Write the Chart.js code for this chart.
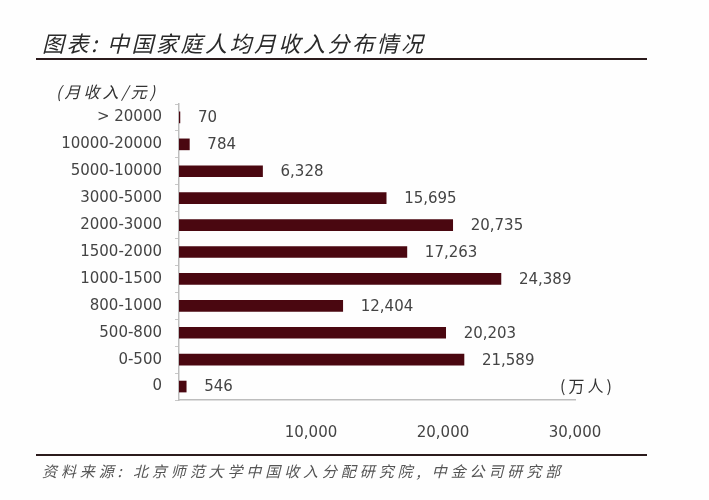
<!DOCTYPE html>
<html>
<head>
<meta charset="utf-8">
<script src="https://cdn.jsdelivr.net/npm/chart.js@4/dist/chart.umd.min.js"></script>
<style>
  html, body { margin:0; padding:0; background:#fefefe; }
  #wrap { position:relative; width:709px; height:500px; overflow:hidden; }
  canvas { position:absolute; left:0; top:0; }
  .t { position:absolute; white-space:nowrap; font-family:"Noto Sans CJK SC", sans-serif; }
  #title { left:42px; top:26px; font-size:22px; font-style:italic; color:#2a2a2a; letter-spacing:2.5px; }
  #unitY { left:56px; top:79px; font-size:16px; font-style:italic; color:#333; letter-spacing:3px; }
  #unitX { left:560px; top:373px; font-size:16px; color:#333; letter-spacing:3px; }
  #source { left:42px; top:460px; font-size:15px; font-style:italic; color:#555; letter-spacing:3.9px; }
  .rule { position:absolute; left:36px; width:611px; height:2px; background:#2b1b1c; }
</style>
</head>
<body>
<div id="wrap">
  <canvas id="c" width="709" height="500"></canvas>
  <div class="t" id="title">图表: 中国家庭人均月收入分布情况</div>
  <div class="rule" style="top:58px"></div>
  <div class="t" id="unitY">(月收入/元)</div>
  <div class="t" id="unitX">(万人)</div>
  <div class="rule" style="top:454px"></div>
  <div class="t" id="source">资料来源: 北京师范大学中国收入分配研究院, 中金公司研究部</div>
</div>
<script>
const categories = ['> 20000','10000-20000','5000-10000','3000-5000','2000-3000','1500-2000','1000-1500','800-1000','500-800','0-500','0'];
const population = [70, 784, 6328, 15695, 20735, 17263, 24389, 12404, 20203, 21589, 546];
const xTickValues = [0, 10000, 20000, 30000];

const valueLabels = {
  id: 'valueLabels',
  afterDatasetsDraw(chart) {
    const ctx = chart.ctx;
    const meta = chart.getDatasetMeta(0);
    ctx.save();
    ctx.font = '15px "DejaVu Sans", sans-serif';
    ctx.fillStyle = '#444';
    ctx.textAlign = 'left';
    ctx.textBaseline = 'middle';
    meta.data.forEach((el, i) => {
      ctx.fillText(population[i].toLocaleString('en-US'), el.x + 18, el.y + 1);
    });
    ctx.restore();
  }
};

new Chart(document.getElementById('c'), {
  type: 'bar',
  data: {
    labels: categories,
    datasets: [{
      data: population,
      backgroundColor: '#4a0710',
      borderWidth: 0,
      barThickness: 11
    }]
  },
  options: {
    indexAxis: 'y',
    responsive: false,
    animation: false,
    layout: { padding: { top: 104, bottom: 60, left: 0, right: 134 } },
    plugins: { legend: { display: false }, tooltip: { enabled: false } },
    scales: {
      x: {
        min: 0, max: 30000,
        afterBuildTicks: (s) => { s.ticks = xTickValues.map(v => ({ value: v })); },
        afterFit: (s) => { s.height = 40; },
        grid: { display: false },
        border: { display: true, color: '#bdbdbd', width: 1.5 },
        ticks: {
          padding: 16,
          color: '#444',
          font: { family: '"DejaVu Sans", sans-serif', size: 15 },
          callback: (v) => v === 0 ? '' : Number(v).toLocaleString('en-US')
        }
      },
      y: {
        afterFit: (s) => { s.width = 179; },
        grid: { display: true, drawOnChartArea: false, offset: true, tickLength: 4, color: '#c8c8c8' },
        border: { display: true, color: '#bdbdbd', width: 1.5 },
        ticks: {
          padding: 13,
          color: '#444',
          font: { family: '"DejaVu Sans", sans-serif', size: 15 }
        }
      }
    }
  },
  plugins: [valueLabels]
});
</script>
</body>
</html>
